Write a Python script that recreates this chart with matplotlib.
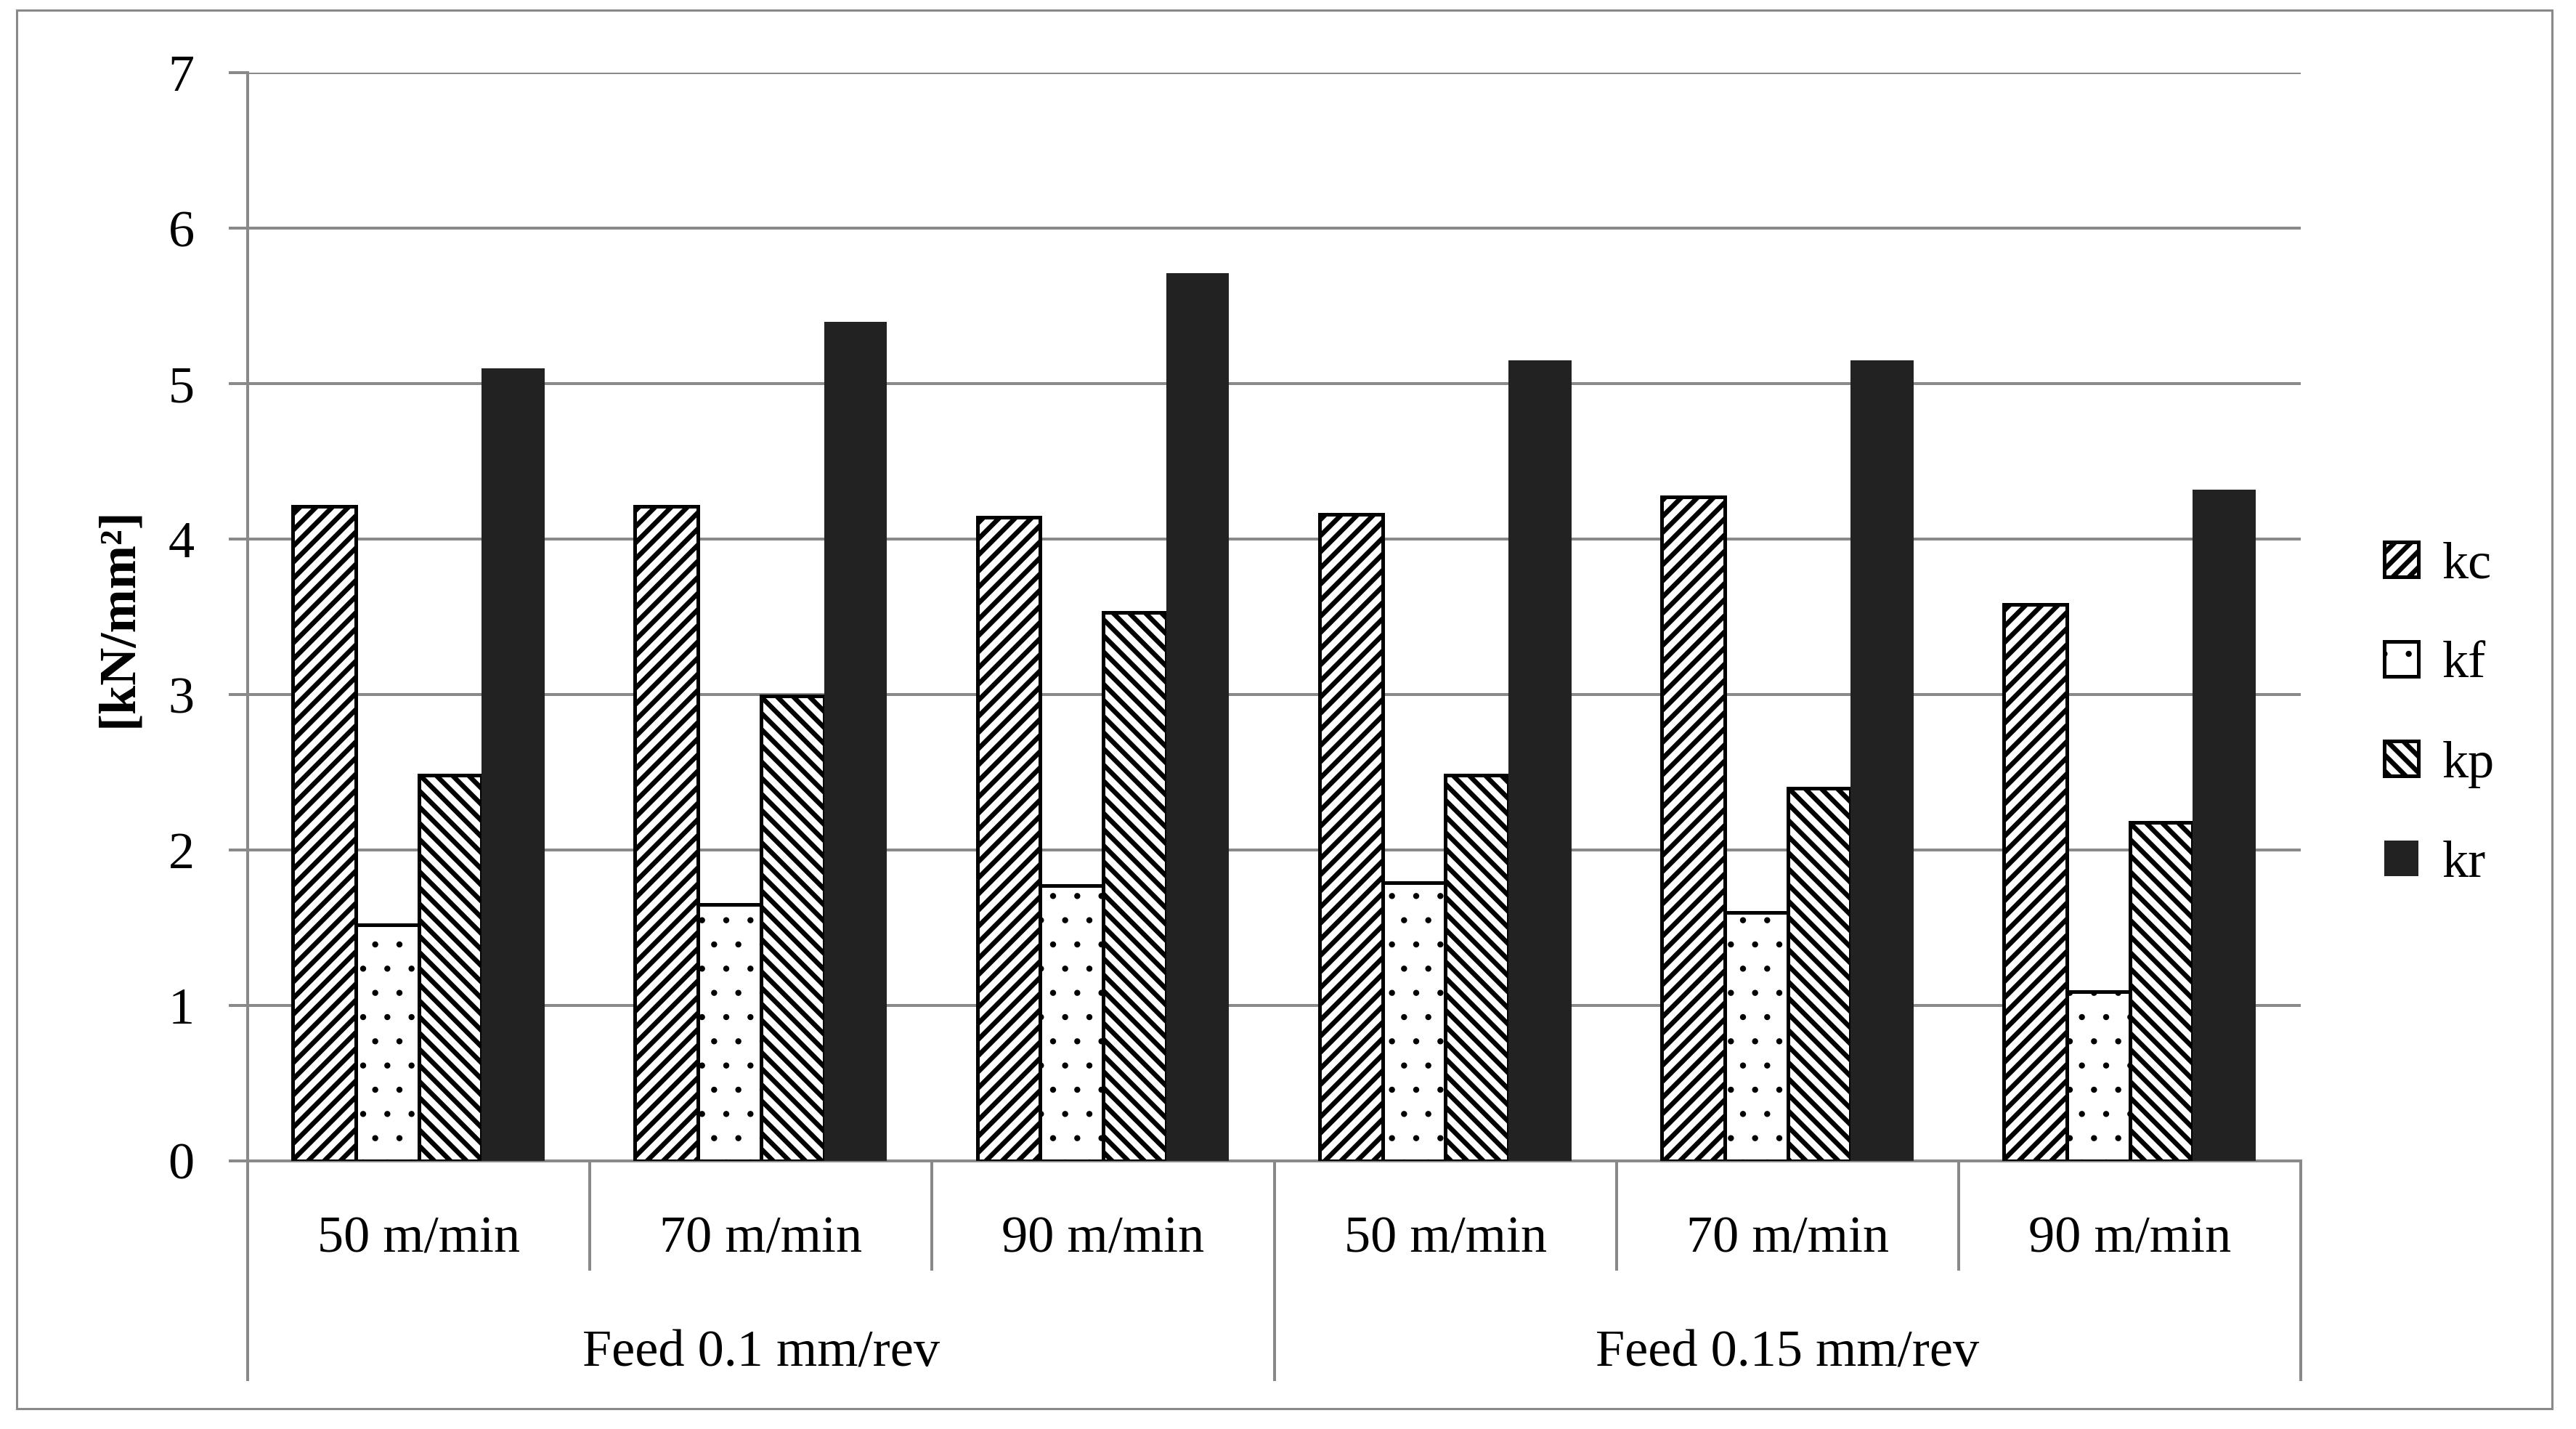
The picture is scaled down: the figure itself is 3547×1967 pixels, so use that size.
"""Specific cutting force coefficients by cutting speed and feed."""

import matplotlib
matplotlib.use('Agg')
import matplotlib.pyplot as plt
import matplotlib.transforms as mtransforms
from matplotlib.patches import Rectangle
import numpy as np

# <------------------------------ Data ----------------------------------->
speeds = ['50 m/min', '70 m/min', '90 m/min', '50 m/min', '70 m/min', '90 m/min']
feeds = ['Feed 0.1 mm/rev', 'Feed 0.15 mm/rev']
kc = [4.21, 4.21, 4.14, 4.16, 4.27, 3.58]
kf = [1.52, 1.65, 1.77, 1.79, 1.60, 1.09]
kp = [2.48, 2.99, 3.53, 2.48, 2.40, 2.18]
kr = [5.10, 5.40, 5.71, 5.15, 5.15, 4.32]
series_names = ['kc', 'kf', 'kp', 'kr']
yticks = [0, 1, 2, 3, 4, 5, 6, 7]

GRAY = '#898989'
FS = 26

plt.rcParams['font.family'] = ['Liberation Serif', 'DejaVu Serif']
plt.rcParams['hatch.linewidth'] = 2.4


def thin_hatch(artist, lw):
    """Draw an artist with its own hatch line width (read at draw time)."""
    orig = artist.draw

    def draw(renderer):
        with plt.rc_context({'hatch.linewidth': lw}):
            orig(renderer)
    artist.draw = draw
    try:
        artist.set_hatch_linewidth(lw)
    except AttributeError:
        pass


fig = plt.figure(figsize=(17.74, 9.835), dpi=200)
ax = fig.add_axes([0.0961, 0.1876, 0.893 - 0.0961, 0.949 - 0.1876])

x = np.arange(len(speeds))
w = 0.184
styles = [
    dict(facecolor='white', edgecolor='black', hatch='///'),
    dict(facecolor='white', edgecolor='black', hatch='.'),
    dict(facecolor='white', edgecolor='black', hatch='\\\\\\'),
    dict(facecolor='#222222', edgecolor='none', hatch=None),
]
values = [kc, kf, kp, kr]

for k, (vals, st, name) in enumerate(zip(values, styles, series_names)):
    bars = ax.bar(x + (k - 1.5) * w, vals, width=w,
                  facecolor=st['facecolor'], edgecolor=st['edgecolor'],
                  hatch=st['hatch'], linewidth=1.8, label=name, zorder=3)
    if name == 'kf':
        for b in bars:
            thin_hatch(b, 0.6)

ax.set_xlim(-0.5, len(speeds) - 0.5)
ax.set_ylim(0, 7)
ax.set_yticks(yticks)
ax.set_xticks([])
ax.yaxis.grid(True, color=GRAY, linewidth=1.44)
ax.set_axisbelow(True)

for s in ['top', 'right']:
    ax.spines[s].set_visible(False)
for s in ['left', 'bottom']:
    ax.spines[s].set_color(GRAY)
    ax.spines[s].set_linewidth(1.44)
ax.tick_params(axis='y', length=9.4, width=1.44, color=GRAY, pad=17,
               labelsize=FS)

# <---------------------- Category axis labels ---------------------------->
trans = mtransforms.blended_transform_factory(ax.transData, ax.transAxes)
for i, lab in enumerate(speeds):
    ax.text(i, -0.072, lab, transform=trans, ha='center', va='center',
            fontsize=FS)
for j, lab in enumerate(feeds):
    ax.text(j * 3 + 1, -0.177, lab, transform=trans, ha='center',
            va='center', fontsize=FS)

for b in np.arange(-0.5, len(speeds), 1.0):
    low = -0.2023 if (b + 0.5) % 3 == 0 else -0.1008
    ax.plot([b, b], [0, low], transform=trans, color=GRAY, linewidth=1.44,
            clip_on=False, solid_capstyle='butt')

fig.text(0.046, 0.568, '[kN/mm²]', rotation=90, ha='center', va='center',
         fontsize=FS, fontweight='bold')

leg = ax.legend(loc='center left', bbox_to_anchor=(0.907, 0.5),
                bbox_transform=fig.transFigure, frameon=False, fontsize=FS,
                handlelength=0.65, handleheight=0.65, labelspacing=1.0,
                handletextpad=0.45)
thin_hatch(leg.legend_handles[1], 0.6)

fig.patches.append(Rectangle((0.0065, 0.0142), 0.9904 - 0.0065,
                             0.9929 - 0.0142, transform=fig.transFigure,
                             fill=False, edgecolor=GRAY, linewidth=1.1))

fig.savefig('out.png', dpi=200)
